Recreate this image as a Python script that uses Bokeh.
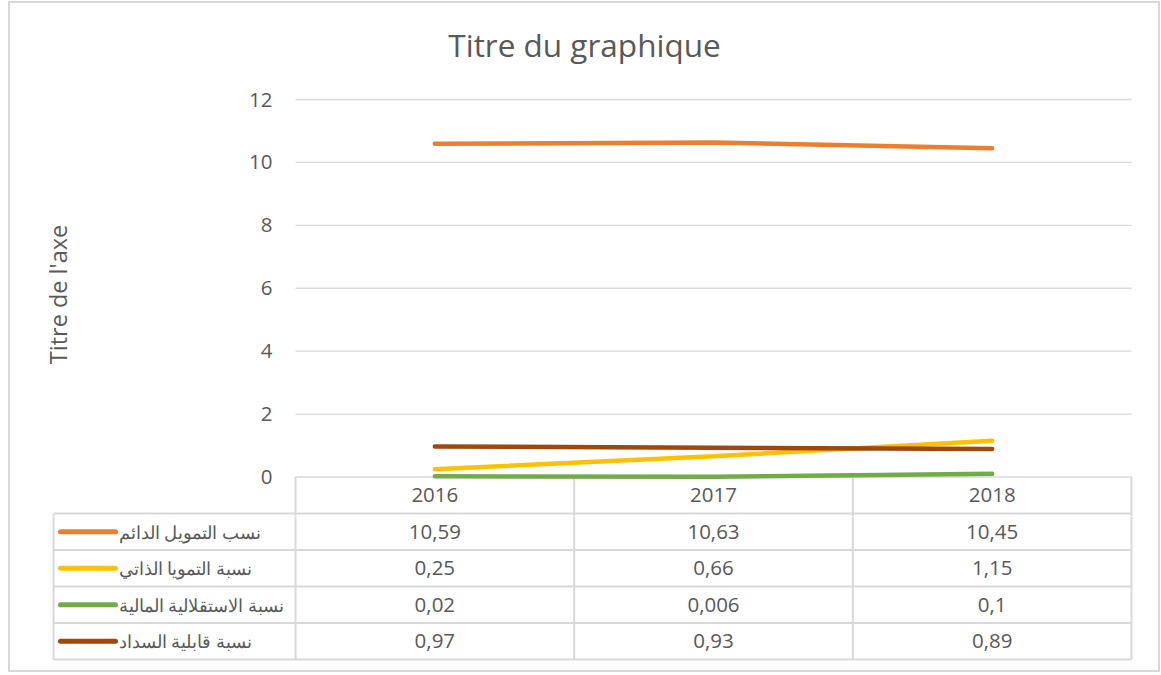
from bokeh.plotting import figure
from bokeh.layouts import column
from bokeh.models import Range1d, FixedTicker
from bokeh.core.properties import value
from bokeh.embed import file_html
from bokeh.resources import INLINE

# ---------------- data ----------------
title_text = "Titre du graphique"
y_title = "Titre de l'axe"
years = ["2016", "2017", "2018"]
series_names = [
    "نسب التمويل الدائم",
    "نسبة التمويا الذاتي",
    "نسبة الاستقلالية المالية",
    "نسبة قابلية السداد",
]
s_permanent = [10.59, 10.63, 10.45]
s_selffin = [0.25, 0.66, 1.15]
s_autonomy = [0.02, 0.006, 0.1]
s_solvency = [0.97, 0.93, 0.89]
y_ticks = [0, 2, 4, 6, 8, 10, 12]

series_values = [s_permanent, s_selffin, s_autonomy, s_solvency]
colors = ["#ED7D31", "#FFC000", "#70AD47", "#9E480E"]

FONT = "Open Sans"
TXT = "#595959"
GRID = "#d9d9d9"

# ---------------- geometry (page pixels) ----------------
FRAME_L, FRAME_R = 10, 1158          # both figures' frames span the full width
PLOT_L, PLOT_R = 295, 1131           # plot area / year columns
TABLE_L = 53                          # left edge of the data table
COL_PX = (PLOT_R - PLOT_L) / len(years)
Y12_PX, Y0_PX = 99, 476.5
Y_PX = (Y0_PX - Y12_PX) / 12
TOP_T, TOP_B = 3, 516
TAB_B, TAB_FRAME_B = 659, 670
TITLE_MID_PX, TITLE_CX_PX = 44, 584
n_rows = len(series_names)
n_cols = len(years)
ROW_PX = (TAB_B - Y0_PX) / (n_rows + 1)
HEADER_B_PX = Y0_PX + ROW_PX

def px2x(px):
    return -0.5 + (px - PLOT_L) / COL_PX

def px2y(px):  # chart units
    return (Y0_PX - px) / Y_PX

x_lo, x_hi = px2x(FRAME_L), px2x(FRAME_R)
TABLE_LEFT = px2x(TABLE_L)
col_edges = [c - 0.5 for c in range(n_cols + 1)]
xs = list(range(n_cols))

# ---------------- chart (+ table header row) ----------------
y_lo = px2y(TOP_B)
header_b = px2y(HEADER_B_PX)
p = figure(width=FRAME_R - FRAME_L, height=TOP_B - TOP_T,
           x_range=Range1d(x_lo, x_hi), y_range=Range1d(y_lo, px2y(TOP_T)),
           output_backend="svg", toolbar_location=None,
           min_border_left=0, min_border_right=0, min_border_top=0, min_border_bottom=0)
p.xaxis.visible = False
p.grid.visible = False
p.outline_line_color = None

# horizontal gridlines over the plot area only
p.segment(x0=[-0.5] * len(y_ticks), x1=[n_cols - 0.5] * len(y_ticks), y0=y_ticks, y1=y_ticks,
          line_color=GRID, line_width=1.3)
# table header row: column separators and bottom border
p.segment(x0=col_edges, x1=col_edges, y0=[0] * len(col_edges), y1=[y_lo] * len(col_edges),
          line_color=GRID, line_width=2)
p.segment(x0=[TABLE_LEFT, TABLE_LEFT], x1=[n_cols - 0.5, TABLE_LEFT],
          y0=[header_b, header_b], y1=[header_b, y_lo], line_color=GRID, line_width=2)
p.text(x=xs, y=[header_b / 2] * n_cols, text=years, text_font=value(FONT),
       text_font_size="20.5px", text_color=TXT, text_align="center", text_baseline="middle")

ax = p.yaxis[0]
ax.fixed_location = -0.5
ax.bounds = (-0.4, 12)
ax.ticker = FixedTicker(ticks=y_ticks)
ax.axis_line_color = None
ax.major_tick_line_color = None
ax.minor_tick_line_color = None
ax.major_tick_out = 0
ax.major_tick_in = 0
ax.major_label_standoff = 23
ax.major_label_text_font = FONT
ax.major_label_text_font_size = "20.5px"
ax.major_label_text_color = TXT
ax.axis_label = y_title
ax.axis_label_text_font = FONT
ax.axis_label_text_font_size = "23.5px"
ax.axis_label_text_font_style = "normal"
ax.axis_label_text_color = TXT
ax.axis_label_standoff = 172

# chart title
p.text(x=[px2x(TITLE_CX_PX)], y=[px2y(TITLE_MID_PX)], text=[title_text], text_font=value(FONT),
       text_font_size="31.5px", text_color=TXT, text_align="center", text_baseline="middle")

for vals, c in zip(series_values, colors):
    p.line(xs, vals, line_color=c, line_width=4.5, line_cap="round", line_join="round")

# ---------------- data table body ----------------
t = figure(width=FRAME_R - FRAME_L, height=TAB_FRAME_B - TOP_B,
           x_range=Range1d(x_lo, x_hi),
           y_range=Range1d(-(TAB_FRAME_B - TAB_B) / ROW_PX, n_rows - (TOP_B - HEADER_B_PX) / ROW_PX),
           output_backend="svg", toolbar_location=None,
           min_border_left=0, min_border_right=0, min_border_top=0, min_border_bottom=0)
t.axis.visible = False
t.grid.visible = False
t.outline_line_color = None

hy = list(range(n_rows + 1))
t.segment(x0=[TABLE_LEFT] * len(hy), x1=[n_cols - 0.5] * len(hy), y0=hy, y1=hy,
          line_color=GRID, line_width=2)
vx = [TABLE_LEFT] + col_edges
t.segment(x0=vx, x1=vx, y0=[0] * len(vx), y1=[n_rows] * len(vx), line_color=GRID, line_width=2)

vx_, vy_, vt_ = [], [], []
for r, vals in enumerate(series_values):
    for c, v in enumerate(vals):
        vx_.append(c)
        vy_.append(n_rows - 1 - r + 0.5)
        vt_.append(str(v).replace(".", ","))
t.text(x=vx_, y=vy_, text=vt_, text_font=value(FONT), text_font_size="20.5px",
       text_color=TXT, text_align="center", text_baseline="middle")

ky = [n_rows - 1 - r + 0.5 for r in range(n_rows)]
t.segment(x0=[px2x(60)] * n_rows, x1=[px2x(115)] * n_rows, y0=ky, y1=ky,
          line_color=colors, line_width=5, line_cap="round")
t.text(x=[px2x(118)] * n_rows, y=ky, text=series_names, text_font=value(FONT),
       text_font_size="17.5px", text_color=TXT, text_align="left", text_baseline="middle")

layout = column(p, t, spacing=0, margin=(1, 0, 0, 8),
                styles={"border": "2px solid #d9d9d9"})
open("out.html", "w").write(file_html(layout, INLINE))
